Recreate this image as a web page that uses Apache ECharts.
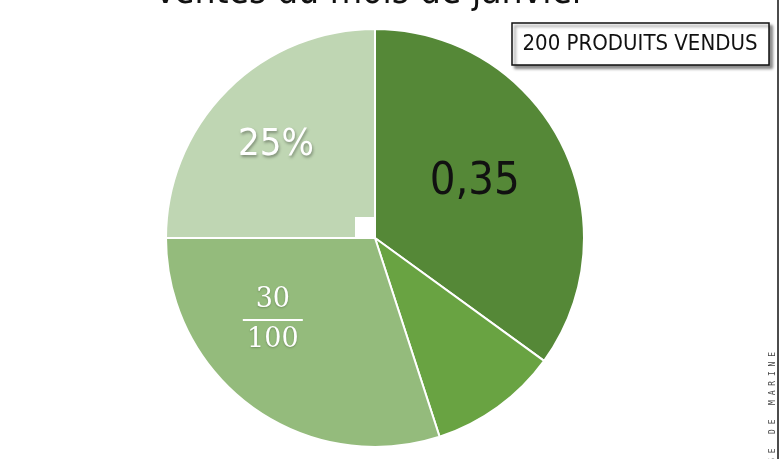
<!DOCTYPE html>
<html>
<head>
<meta charset="utf-8">
<script src="https://cdn.jsdelivr.net/npm/echarts@6/dist/echarts.min.js"></script>
<style>
html,body{margin:0;padding:0;background:#fff;}
#chart{width:781px;height:459px;}
</style>
</head>
<body>
<div id="chart"></div>
<script>
const titleText = 'Ventes du mois de janvier';
const boxText = '200 PRODUITS VENDUS';
const creditText = 'L A   C L A S S E   D E   M A R I N E';
const categories = ['0,35', '10 %', '30/100', '25%'];
const values = [35, 10, 30, 25];
const sliceColors = ['#558837', '#69a342', '#94bb7c', '#bfd6b3'];
const labelShifts = [[4, -7], [0, 0], [-39, -5], [-23, -17]];

const HAND = "'DejaVu Sans Condensed', 'Roboto', sans-serif";

const chart = echarts.init(document.getElementById('chart'));

const labelFor = [
  { show: true, formatter: '{b|0,35}', rich: { b: { fontFamily: HAND, fontSize: 45, color: '#111' } } },
  { show: false },
  { show: true, formatter: '{n|30}\n{hr|}\n{n|100}', rich: {
      n: { fontFamily: 'DejaVu Serif', fontSize: 27, color: '#fff', align: 'center', lineHeight: 36, textShadowColor: 'rgba(0,0,0,0.25)', textShadowBlur: 2, textShadowOffsetY: 1 },
      hr: { borderColor: '#fff', borderWidth: 2, width: 60, height: 0, align: 'center', lineHeight: 4 }
  } },
  { show: true, formatter: '{w|25%}', rich: { w: { fontFamily: HAND, fontSize: 38, color: '#fff', textShadowColor: 'rgba(0,0,0,0.35)', textShadowBlur: 3, textShadowOffsetX: 1, textShadowOffsetY: 2 } } }
];

const data = categories.map((c, i) => ({
  name: c,
  value: values[i],
  itemStyle: { color: sliceColors[i] },
  label: labelFor[i]
}));

chart.setOption({
  animation: false,
  backgroundColor: '#fff',
  title: {
    text: titleText,
    left: 149,
    top: -30,
    textStyle: { fontFamily: HAND, fontSize: 37, fontWeight: 'normal', color: '#111' }
  },
  series: [{
    type: 'pie',
    center: [375, 238],
    radius: 209,
    startAngle: 90,
    clockwise: true,
    silent: true,
    itemStyle: { borderColor: '#fff', borderWidth: 2 },
    label: { position: 'inside' },
    labelLine: { show: false },
    labelLayout: function (p) {
      const s = labelShifts[p.dataIndex];
      return { dx: s[0], dy: s[1] };
    },
    data: data
  }],
  graphic: [
    { type: 'rect', shape: { x: 355, y: 217, width: 20, height: 21 }, style: { fill: '#fff' }, z: 10 },
    { type: 'rect', shape: { x: 512, y: 23, width: 257, height: 42 },
      style: { fill: '#fff', stroke: '#111', lineWidth: 1.5, shadowColor: 'rgba(0,0,0,0.45)', shadowBlur: 3, shadowOffsetX: 3, shadowOffsetY: 3 }, z: 10 },
    { type: 'text', x: 640, y: 44, style: { text: boxText, fontFamily: HAND, fontSize: 22, fill: '#111', textAlign: 'center', textVerticalAlign: 'middle' }, z: 11 },
    { type: 'line', shape: { x1: 778, y1: 0, x2: 778, y2: 459 }, style: { stroke: '#111', lineWidth: 1.5 }, z: 10 },
    { type: 'text', x: 773, y: 352, rotation: Math.PI / 2, style: { text: creditText, fontFamily: 'DejaVu Sans Mono', fontSize: 8, fill: '#444', textAlign: 'right', textVerticalAlign: 'middle' }, z: 10 }
  ]
});
</script>
</body>
</html>
